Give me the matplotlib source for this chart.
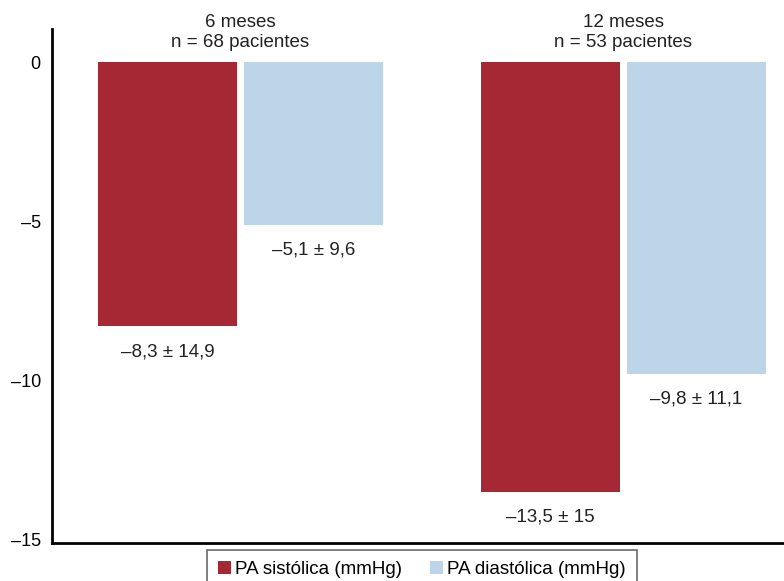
import numpy as np
import matplotlib.pyplot as plt

groups = ['6 meses\nn = 68 pacientes', '12 meses\nn = 53 pacientes']
series = ['PA sistólica (mmHg)', 'PA diastólica (mmHg)']
sistolica = [-8.3, -13.5]
diastolica = [-5.1, -9.8]
etiquetas_sis = ['–8,3 ± 14,9', '–13,5 ± 15']
etiquetas_dia = ['–5,1 ± 9,6', '–9,8 ± 11,1']
yticks = [0, -5, -10, -15]
ytick_labels = ['0', '–5', '–10', '–15']

plt.rcParams['font.family'] = ['Liberation Sans', 'DejaVu Sans']

fig = plt.figure(figsize=(7.84, 5.81), dpi=100)
ax = fig.add_axes([0.0663, 0.0654, 0.9337, 0.8846])

x = np.arange(len(groups))
w = 0.363
off = 0.1906
b1 = ax.bar(x - off, sistolica, w, color='#A52834', label=series[0])
b2 = ax.bar(x + off, diastolica, w, color='#BDD5E8', label=series[1])

for xi, v, t in zip(x - off, sistolica, etiquetas_sis):
    ax.text(xi, v - 0.8, t, ha='center', va='center', fontsize=13.5, color='#222222')
for xi, v, t in zip(x + off, diastolica, etiquetas_dia):
    ax.text(xi, v - 0.8, t, ha='center', va='center', fontsize=13.5, color='#222222')
for xi, g in zip(x, groups):
    ax.text(xi, 0.94, g, ha='center', va='center', fontsize=13.5,
            color='#222222', linespacing=1.25)

ax.set_xlim(-0.492, 1.419)
ax.set_ylim(-15.12, 1.05)
ax.set_yticks(yticks)
ax.set_yticklabels(ytick_labels, fontsize=13)
ax.set_xticks([])
ax.tick_params(axis='y', length=0, pad=8)
ax.spines['top'].set_visible(False)
ax.spines['right'].set_visible(False)
ax.spines['left'].set_linewidth(2)
ax.spines['bottom'].set_linewidth(2)

# legend box runs off the bottom edge, as in the original
leg = fig.legend(handles=[b1, b2], loc='upper center', ncol=2,
                 bbox_to_anchor=(422 / 784, 1 - 550 / 581), fontsize=13.5,
                 frameon=True, fancybox=False, edgecolor='#444444',
                 handlelength=0.7, handleheight=0.7, handletextpad=0.2,
                 columnspacing=1.5, borderpad=0.6, borderaxespad=0)
leg.get_frame().set_linewidth(1.2)

fig.savefig('out.png', dpi=100)
